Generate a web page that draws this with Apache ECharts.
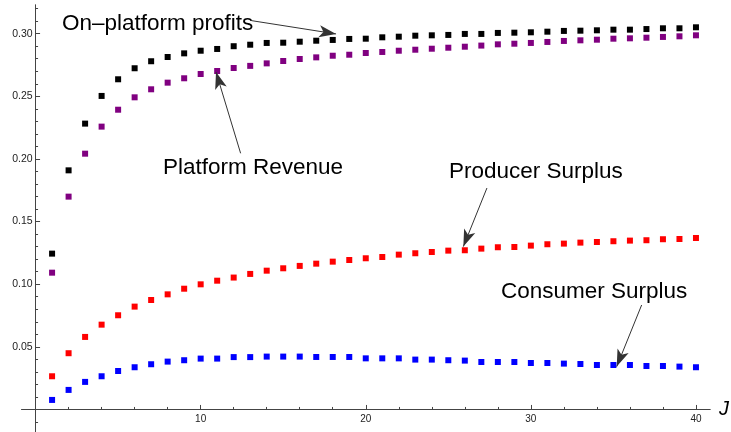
<!DOCTYPE html>
<html><head><meta charset="utf-8">
<script src="https://cdn.jsdelivr.net/npm/echarts@6/dist/echarts.min.js"></script>
<style>html,body{margin:0;padding:0;background:#fff}#c{width:731px;height:432px}</style>
</head><body><div id="c"></div>
<script>
const J = [1,2,3,4,5,6,7,8,9,10,11,12,13,14,15,16,17,18,19,20,21,22,23,24,25,26,27,28,29,30,31,32,33,34,35,36,37,38,39,40];
const onPlatformProfits = [0.1244,0.1909,0.2282,0.2503,0.2636,0.2724,0.2780,0.2814,0.2843,0.2864,0.2878,0.2900,0.2912,0.2926,0.2928,0.2936,0.2944,0.2950,0.2958,0.2960,0.2971,0.2976,0.2984,0.2987,0.2990,0.2998,0.2998,0.3006,0.3008,0.3011,0.3016,0.3022,0.3024,0.3027,0.3032,0.3032,0.3037,0.3043,0.3043,0.3051];
const platformRevenue = [0.1092,0.1699,0.2042,0.2258,0.2393,0.2492,0.2556,0.2609,0.2644,0.2678,0.2702,0.2726,0.2743,0.2763,0.2782,0.2798,0.2811,0.2824,0.2832,0.2846,0.2854,0.2864,0.2872,0.2880,0.2888,0.2896,0.2905,0.2915,0.2920,0.2926,0.2934,0.2942,0.2947,0.2952,0.2960,0.2963,0.2968,0.2974,0.2979,0.2987];
const producerSurplus = [0.0265,0.0449,0.0579,0.0677,0.0752,0.0821,0.0874,0.0919,0.0964,0.0999,0.1028,0.1053,0.1082,0.1108,0.1127,0.1146,0.1164,0.1180,0.1193,0.1207,0.1217,0.1236,0.1247,0.1257,0.1268,0.1271,0.1284,0.1295,0.1297,0.1308,0.1319,0.1324,0.1332,0.1337,0.1343,0.1348,0.1351,0.1359,0.1361,0.1369];
const consumerSurplus = [0.0076,0.0156,0.0220,0.0265,0.0307,0.0337,0.0361,0.0382,0.0393,0.0406,0.0406,0.0418,0.0418,0.0422,0.0422,0.0422,0.0419,0.0419,0.0419,0.0408,0.0408,0.0408,0.0398,0.0398,0.0393,0.0390,0.0379,0.0379,0.0379,0.0371,0.0371,0.0366,0.0363,0.0355,0.0355,0.0355,0.0347,0.0347,0.0342,0.0337];

const xMajorTicks = [10,20,30,40];
const xMinorTicks = [2,4,6,8,12,14,16,18,22,24,26,28,32,34,36,38];
const yMajorTicks = [0.05,0.10,0.15,0.20,0.25,0.30];
const yMinorTicks = [-0.01,0.01,0.02,0.03,0.04,0.06,0.07,0.08,0.09,0.11,0.12,0.13,0.14,0.16,0.17,0.18,0.19,0.21,0.22,0.23,0.24,0.26,0.27,0.28,0.29,0.31,0.32];

const labelTexts = ['On\u2013platform profits','Platform Revenue','Producer Surplus','Consumer Surplus'];
const arrowFrom = [[13.09,0.3104],[12.42,0.2045],[27.34,0.1768],[36.71,0.0834]];
const arrowTo = [[18.2,0.2998],[10.93,0.2694],[25.91,0.1300],[35.2,0.0342]];

const AX = '#444';
const W = 731, H = 432;
const X_MIN = -0.84, X_MAX = 40.85, Y_MIN = -0.018, Y_MAX = 0.3229;
const GRID = {left:21.7, right:21, top:5, bottom:0};
// pixel distances from the grid edges to the zero lines (labels are attached to grid edges)
const zeroOffsetY = (0 - Y_MIN) / (Y_MAX - Y_MIN) * (H - GRID.top - GRID.bottom);
const zeroOffsetX = (0 - X_MIN) / (X_MAX - X_MIN) * (W - GRID.left - GRID.right);

const xBase = {type:'value', min:X_MIN, max:X_MAX, position:'bottom', splitLine:{show:false},
  axisLine:{onZero:true, lineStyle:{color:AX, width:1}}, axisLabel:{show:false}};
const yBase = {type:'value', min:Y_MIN, max:Y_MAX, position:'left', splitLine:{show:false},
  axisLine:{onZero:true, lineStyle:{color:AX, width:1}}, axisLabel:{show:false}};

function pts(arr){ return J.map((x,i)=>[x,arr[i]]); }
function sc(name, arr, color){
  return {name, type:'scatter', data:pts(arr), symbol:'rect', symbolSize:6,
    itemStyle:{color, opacity:1}, silent:true, animation:false, xAxisIndex:0, yAxisIndex:0};
}

const chart = echarts.init(document.getElementById('c'), null, {renderer:'canvas'});
chart.setOption({
  animation:false,
  grid:Object.assign({containLabel:false, outerBoundsMode:'none'}, GRID),
  xAxis:[
    Object.assign({}, xBase, {
      axisTick:{show:true, inside:true, length:4.5, customValues:xMajorTicks, lineStyle:{color:AX}},
      name:'J', nameLocation:'end', nameGap:9,
      nameTextStyle:{fontSize:20, fontStyle:'italic', color:'#000', fontFamily:'Liberation Sans', verticalAlign:'middle'}
    }),
    Object.assign({}, xBase, {
      axisTick:{show:true, inside:true, length:2.5, customValues:xMinorTicks, lineStyle:{color:AX}}
    }),
    {type:'value', min:X_MIN, max:X_MAX, position:'bottom', offset:-zeroOffsetY, splitLine:{show:false},
      axisLine:{show:false, onZero:false}, axisTick:{show:false},
      axisLabel:{show:true, customValues:xMajorTicks, fontSize:10, color:'#222', margin:5, fontFamily:'Liberation Sans'}}
  ],
  yAxis:[
    Object.assign({}, yBase, {
      axisTick:{show:true, inside:true, length:4.5, customValues:yMajorTicks, lineStyle:{color:AX}}
    }),
    Object.assign({}, yBase, {
      axisTick:{show:true, inside:true, length:2.5, customValues:yMinorTicks, lineStyle:{color:AX}}
    }),
    {type:'value', min:Y_MIN, max:Y_MAX, position:'left', offset:-zeroOffsetX, splitLine:{show:false},
      axisLine:{show:false, onZero:false}, axisTick:{show:false},
      axisLabel:{show:true, customValues:yMajorTicks, fontSize:10.5, color:'#222', margin:3, fontFamily:'Liberation Sans',
        formatter:v=>v.toFixed(2)}}
  ],
  series:[
    sc('Consumer Surplus', consumerSurplus, '#0000ff'),
    sc('Producer Surplus', producerSurplus, '#ff0000'),
    sc('Platform Revenue', platformRevenue, '#800080'),
    sc('On-platform profits', onPlatformProfits, '#000000'),
    {type:'scatter', data:[], xAxisIndex:0, yAxisIndex:0, silent:true, itemStyle:{color:'#222'},
      markLine:{silent:true, animation:false, symbol:['none','arrow'], symbolSize:16,
        itemStyle:{color:'#222'},
        lineStyle:{color:'#333', width:1, type:'solid'}, label:{show:false}, emphasis:{disabled:true},
        data: arrowFrom.map((f,i)=>[
          {coord:f, symbol:'none'},
          {coord:arrowTo[i], symbol:'arrow', symbolSize:[9,17], itemStyle:{color:'#222'}}
        ])}}
  ],
  graphic:[
    {type:'text', x:62, y:23.8, style:{text:labelTexts[0], font:'22.5px "Liberation Sans"', fill:'#000', verticalAlign:'middle'}},
    {type:'text', x:163, y:168, style:{text:labelTexts[1], font:'22.5px "Liberation Sans"', fill:'#000', verticalAlign:'middle'}},
    {type:'text', x:449, y:171.3, style:{text:labelTexts[2], font:'22.5px "Liberation Sans"', fill:'#000', verticalAlign:'middle'}},
    {type:'text', x:501, y:292, style:{text:labelTexts[3], font:'22.5px "Liberation Sans"', fill:'#000', verticalAlign:'middle'}}
  ]
});
</script>
</body></html>
